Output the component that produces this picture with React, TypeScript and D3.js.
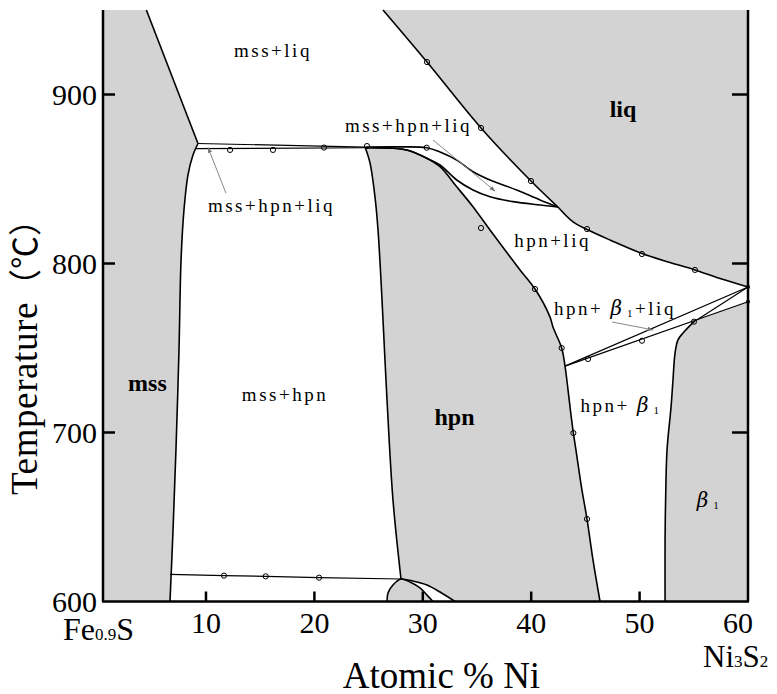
import React from "react";
import * as d3 from "d3";

type Pt = [number, number];

// [at.% Ni, temperature °C]
const mssLiquidus: Pt[] = [[4.5, 950], [9.26, 871.0]];
const mssSolvus: Pt[] = [[9.26, 871.0], [8.8, 864.2], [8.34, 852.4], [7.97, 831.7], [7.7, 802.1], [7.51, 748.8], [7.23, 689.6], [6.96, 642.3], [6.68, 600]];
const tie870Upper: Pt[] = [[9.26, 871.0], [24.7, 868.9]];
const tie870Lower: Pt[] = [[9.0, 868.0], [24.7, 868.5]];
const liqUpper: Pt[] = [[24.7, 868.9], [27.9, 869.0], [30.36, 868.5], [31.59, 866.0], [33.13, 861.2], [34.63, 854.3], [36.2, 849.4], [38.66, 843.5], [40.81, 837.6], [42.47, 833.4]];
const liqMiddle: Pt[] = [[24.7, 868.5], [28.52, 867.2], [30.36, 862.3], [31.59, 858.3], [33.13, 849.4], [34.63, 843.5], [36.2, 839.5], [38.32, 836.6], [40.81, 834.6], [42.47, 833.4]];
const hpnLeft: Pt[] = [[24.7, 868.5], [25.13, 859.5], [25.59, 839.4], [25.87, 819.8], [26.24, 778.4], [26.7, 719.2], [27.25, 660.1], [27.99, 613.3]];
const hpnRight: Pt[] = [[24.7, 868.5], [28.52, 867.2], [30.36, 862.3], [31.59, 857.3], [33.13, 845.4], [34.63, 833.6], [36.2, 819.8], [37.58, 808.0], [38.97, 796.2], [40.35, 784.9], [41.74, 768.3], [42.01, 762.4], [42.81, 750.0], [43.12, 739.3], [43.4, 725.1], [43.67, 710.4], [43.89, 699.7], [44.13, 689.6], [44.68, 666.0], [45.15, 648.8], [45.7, 624.6], [46.35, 600]];
const tie615: Pt[] = [[6.68, 616.1], [11.66, 615.3], [15.51, 614.9], [20.43, 614.1], [27.99, 613.3]];
const domeLeft: Pt[] = [[26.7, 600], [26.79, 605.0], [27.25, 609.8], [27.99, 613.3]];
const domeLow: Pt[] = [[27.99, 613.3], [28.82, 611.5], [29.74, 608.0], [30.39, 603.8], [30.94, 600]];
const domeHigh: Pt[] = [[27.99, 613.3], [29.1, 612.1], [30.39, 609.8], [31.59, 605.6], [32.97, 600]];
const liquidusUpper: Pt[] = [[26.33, 950], [30.39, 919.2], [35.37, 880.2], [39.98, 848.8], [42.47, 833.4]];
const liquidusLower: Pt[] = [[42.47, 833.4], [43.86, 824.6], [45.15, 820.1], [47.27, 813.9], [50.22, 805.9], [52.81, 800.6], [55.11, 796.2], [57.42, 791.1], [60, 786.1]];
const tieHighRight: Pt[] = [[43.12, 739.3], [60, 786.1]];
const tieLowRight: Pt[] = [[43.12, 739.3], [60, 777.4]];
const beta1Liquidus: Pt[] = [[55.02, 765.6], [60, 786.1]];
const beta1Solvus: Pt[] = [[55.02, 765.6], [54.01, 758.9], [53.54, 754.8], [53.27, 747.0], [53.08, 731.1], [52.9, 715], [52.53, 689.6], [52.4, 660], [52.35, 636.4], [52.35, 600]];

// measured points (open circles)
const pts870: Pt[] = [[12.22, 867.2], [16.18, 867.2], [20.89, 868.6], [24.85, 869.5], [30.36, 868.5]];
const ptsLiq: Pt[] = [[30.39, 919.2], [35.37, 880.2], [39.98, 848.8], [45.15, 820.4], [50.22, 805.6], [55.11, 796.2]];
const ptsHpn: Pt[] = [[35.37, 821.0], [40.35, 784.9], [42.81, 750.0], [43.89, 699.7], [45.15, 648.8]];
const ptsTie: Pt[] = [[45.24, 743.5], [50.22, 754.3], [55.02, 765.6]];
const pts615: Pt[] = [[11.66, 615.3], [15.51, 614.9], [20.43, 614.1]];
const ptsEdge: Pt[] = [[60, 786.1], [60, 777.4]];

const xTicks = [10, 20, 30, 40, 50, 60];
const yTicks = [600, 700, 800, 900];

const W = 777;
const H = 694;
const GRAY = "#d3d3d3";
const SERIF = "'Liberation Serif', 'Times New Roman', serif";

export default function App() {
  const x = d3.scaleLinear().domain([0.5, 60]).range([103, 748]);
  const y = d3.scaleLinear().domain([600, 950]).range([601.5, 10]);

  const straight = d3.line<Pt>().x(d => x(d[0])).y(d => y(d[1]));
  const smooth = d3.line<Pt>().x(d => x(d[0])).y(d => y(d[1])).curve(d3.curveCatmullRom.alpha(0.5));
  const cont = (pts: Pt[], curved = true) => (curved ? smooth(pts) : straight(pts))!.replace(/^M/, "L");
  const rev = (pts: Pt[]) => [...pts].reverse();
  const region = (parts: string[]) => parts.join("").replace(/^L/, "M") + "Z";

  const dome = domeLeft.concat(domeLow.slice(1));

  const mssRegion = region([cont([[0.5, 950]], false), cont(mssLiquidus, false), cont(mssSolvus), cont([[0.5, 600]], false)]);
  const liqRegion = region([cont([[60, 950]], false), cont(rev(liquidusLower)), cont(rev(liquidusUpper))]);
  const hpnRegion = region([cont(hpnLeft), cont(domeHigh), cont(rev(hpnRight))]);
  const domeRegion = region([cont(dome)]);
  const beta1Region = region([cont(beta1Solvus), cont([[60, 600], [60, 777.4]], false)]);

  const bold: [Pt[], boolean][] = [
    [mssLiquidus, false], [mssSolvus, true], [liqUpper, true], [liqMiddle, true],
    [hpnLeft, true], [hpnRight, true], [dome, true], [domeHigh, true],
    [liquidusUpper, true], [liquidusLower, true], [beta1Solvus, true],
  ];
  const thin: Pt[][] = [tie870Upper, tie870Lower, tie615, tieHighRight, tieLowRight, beta1Liquidus];

  const arrows: [Pt, Pt][] = [
    [[11.84, 841.7], [10.19, 868.6]],
    [[30.94, 873.1], [36.66, 842.9]],
    [[47.46, 765.4], [51.24, 760.7]],
  ];

  const circles = [...pts870, ...ptsLiq, ...ptsHpn, ...ptsTie, ...pts615];

  const small = { fontFamily: SERIF, fontSize: 19, letterSpacing: 2.5 } as const;
  const big = { fontFamily: SERIF, fontSize: 24, fontWeight: 700 } as const;
  const beta = (size: number) => (
    <>
      <tspan fontFamily="'DejaVu Serif', serif" fontStyle="italic" fontSize={size} letterSpacing={5}>β</tspan>
      <tspan fontSize={11} dy={2}>1</tspan>
    </>
  );

  return (
    <svg width={W} height={H} style={{ position: "absolute", left: 0, top: 0, background: "#fff" }}>
      <defs>
        <marker id="ah" viewBox="0 0 10 10" refX="9" refY="5" markerWidth="6" markerHeight="6" orient="auto">
          <path d="M0,1.5L10,5L0,8.5Z" fill="#777" />
        </marker>
      </defs>

      {/* single-phase fields */}
      <path d={mssRegion} fill={GRAY} />
      <path d={liqRegion} fill={GRAY} />
      <path d={hpnRegion} fill={GRAY} />
      <path d={domeRegion} fill={GRAY} />
      <path d={beta1Region} fill={GRAY} />

      {bold.map(([pts, curved], i) => (
        <path key={"b" + i} d={(curved ? smooth(pts) : straight(pts))!} fill="none" stroke="#000" strokeWidth={1.6} />
      ))}
      {thin.map((pts, i) => (
        <path key={"t" + i} d={straight(pts)!} fill="none" stroke="#000" strokeWidth={1.2} />
      ))}

      {circles.map((d, i) => (
        <circle key={"c" + i} cx={x(d[0])} cy={y(d[1])} r={2.6} fill="none" stroke="#000" strokeWidth={1} />
      ))}
      {ptsEdge.map((d, i) => (
        <circle key={"e" + i} cx={x(d[0])} cy={y(d[1])} r={2} fill="#000" />
      ))}

      {arrows.map(([a, b], i) => (
        <line key={"a" + i} x1={x(a[0])} y1={y(a[1])} x2={x(b[0])} y2={y(b[1])} stroke="#888" strokeWidth={1} markerEnd="url(#ah)" />
      ))}

      {/* field labels */}
      <text x={x(16.18)} y={y(922.2)} textAnchor="middle" {...small}>mss+liq</text>
      <text x={x(48.47)} y={y(886.7)} textAnchor="middle" {...big}>liq</text>
      <text x={x(28.68)} y={y(877.8)} textAnchor="middle" {...small}>mss+hpn+liq</text>
      <text x={x(16.04)} y={y(830.5)} textAnchor="middle" {...small}>mss+hpn+liq</text>
      <text x={x(41.97)} y={y(809.8)} textAnchor="middle" {...small}>hpn+liq</text>
      <text x={x(47.73)} y={y(769.5)} textAnchor="middle" {...small}>
        hpn+ {beta(20)}<tspan dy={-2}>+liq</tspan>
      </text>
      <text x={x(48.29)} y={y(712.3)} textAnchor="middle" {...small}>
        hpn+ {beta(20)}
      </text>
      <text x={x(56.4)} y={y(655.9)} textAnchor="middle" {...small}>{beta(20)}</text>
      <text x={x(4.6)} y={y(724.6)} textAnchor="middle" {...big}>mss</text>
      <text x={x(17.29)} y={y(718.6)} textAnchor="middle" {...small}>mss+hpn</text>
      <text x={x(32.93)} y={y(704.4)} textAnchor="middle" {...big}>hpn</text>

      {/* axes */}
      <line x1={x(0.5)} y1={y(950)} x2={x(0.5)} y2={y(600)} stroke="#000" strokeWidth={2.5} />
      <line x1={x(60)} y1={y(950)} x2={x(60)} y2={y(600)} stroke="#000" strokeWidth={2.5} />
      <line x1={x(0.5) - 1} y1={y(600)} x2={x(60) + 1} y2={y(600)} stroke="#000" strokeWidth={2.5} />

      {yTicks.filter(t => t > 600).map(t => (
        <g key={"yt" + t}>
          <line x1={x(0.5)} x2={x(0.5) + 12} y1={y(t)} y2={y(t)} stroke="#000" strokeWidth={2.5} />
          <line x1={x(60) - 16} x2={x(60)} y1={y(t)} y2={y(t)} stroke="#000" strokeWidth={2.5} />
        </g>
      ))}
      {yTicks.map(t => (
        <text key={"yl" + t} x={x(0.5) - 6} y={y(t)} dy="0.34em" textAnchor="end" fontFamily={SERIF} fontSize={30}>{t}</text>
      ))}

      {xTicks.filter(t => t < 60).map(t => (
        <line key={"xt" + t} x1={x(t)} x2={x(t)} y1={y(600)} y2={y(600) - 10} stroke="#000" strokeWidth={2.5} />
      ))}
      {xTicks.map(t => (
        <text key={"xl" + t} x={x(t) + (t === 60 ? -10 : 0)} y={633} textAnchor="middle" fontFamily={SERIF} fontSize={30}>{t}</text>
      ))}

      <text x={63} y={640} fontFamily={SERIF} fontSize={32}>
        Fe<tspan fontSize={17}>0.9</tspan>S
      </text>
      <text x={703} y={667} fontFamily={SERIF} fontSize={31}>
        Ni<tspan fontSize={17}>3</tspan>S<tspan fontSize={17}>2</tspan>
      </text>

      <text x={441.5} y={688} textAnchor="middle" fontFamily={SERIF} fontSize={37}>Atomic % Ni</text>
      <text transform="translate(37,495) rotate(-90)" fontFamily={SERIF} fontSize={37} letterSpacing={0.6}>
        Temperature<tspan fontFamily="'Noto Sans CJK JP', sans-serif" fontSize={33} letterSpacing={0}>（℃）</tspan>
      </text>
    </svg>
  );
}
